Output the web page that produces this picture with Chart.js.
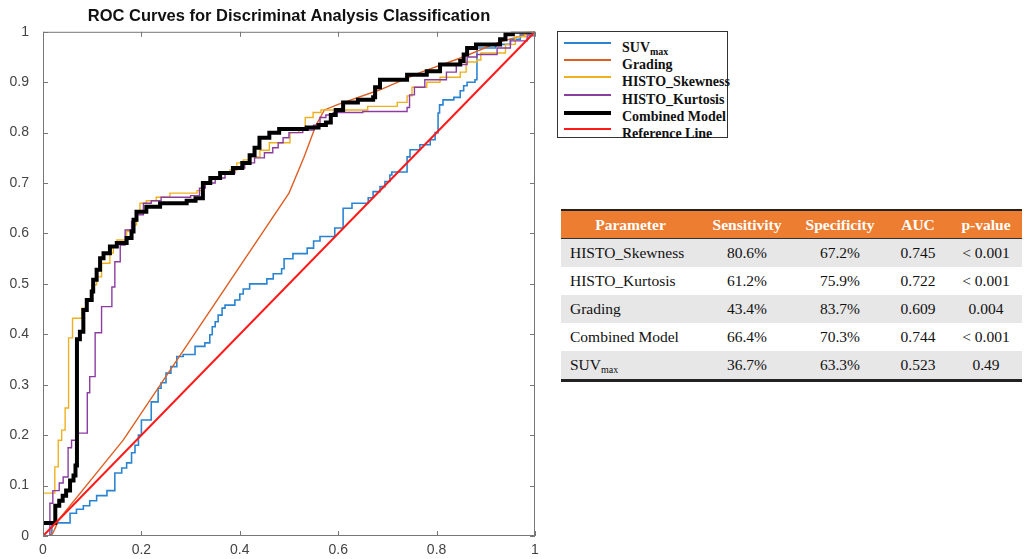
<!DOCTYPE html>
<html>
<head>
<meta charset="utf-8">
<script src="https://cdn.jsdelivr.net/npm/chart.js@4.4.1/dist/chart.umd.min.js"></script>
<style>
  html, body { margin: 0; padding: 0; background: #fff; }
  body { width: 1027px; height: 559px; position: relative; overflow: hidden; }
  #wrap { position: absolute; left: 0; top: 0; width: 550px; height: 559px; }
  #legend {
    position: absolute; left: 557px; top: 31px; width: 169px; height: 105px;
    border: 1px solid #333; background: #fff;
    font-family: "Liberation Serif", "Times New Roman", serif; font-weight: bold; font-size: 14px; color: #111;
  }
  .row { position: absolute; left: 0; height: 17px; width: 100%; }
  .row .smp { position: absolute; left: 6px; width: 47px; top: 3px; }
  .row .lab { position: absolute; left: 64px; top: 0; line-height: 17px; white-space: nowrap; }
  sub { font-size: 10px; vertical-align: -3px; line-height: 0; }
  #tbl {
    position: absolute; left: 561px; top: 209px; width: 461px;
    border-collapse: collapse; table-layout: fixed;
    font-family: "Liberation Serif", "Times New Roman", serif; font-size: 15.5px; color: #111;
    border-top: 2px solid #222; border-bottom: 3px solid #222;
  }
  #tbl th { background: #ED7D31; color: #fff; font-weight: bold; height: 27px; padding: 0; text-align: center; border-bottom: 1px solid #333; }
  #tbl td { height: 28px; padding: 0; text-align: center; }
  #tbl td.p { text-align: left; padding-left: 9px; }
  #tbl tr.g td { background: #E7E7E7; }
</style>
</head>
<body>
<div id="wrap"><canvas id="roc" width="550" height="559"></canvas></div>
<div id="legend"></div>
<table id="tbl"></table>
<script>
// ROC-Kurven (FPR = 1 - Spezifität, TPR = Sensitivität)
const suvFpr = [0, 0.018, 0.055, 0.068, 0.082, 0.095, 0.109, 0.13, 0.146, 0.16, 0.17, 0.18, 0.187, 0.194, 0.2, 0.22, 0.234, 0.24, 0.25, 0.26, 0.272, 0.285, 0.309, 0.329, 0.339, 0.344, 0.35, 0.356, 0.364, 0.37, 0.39, 0.4, 0.407, 0.42, 0.455, 0.468, 0.485, 0.49, 0.508, 0.537, 0.55, 0.563, 0.593, 0.61, 0.628, 0.661, 0.671, 0.685, 0.695, 0.705, 0.709, 0.74, 0.746, 0.766, 0.787, 0.797, 0.803, 0.806, 0.813, 0.835, 0.848, 0.855, 0.862, 0.878, 0.882, 0.92, 0.95, 0.97, 0.99, 1];
const suvTpr = [0, 0.026, 0.045, 0.053, 0.06, 0.07, 0.08, 0.09, 0.125, 0.135, 0.145, 0.165, 0.18, 0.2, 0.23, 0.266, 0.293, 0.304, 0.323, 0.336, 0.356, 0.36, 0.376, 0.383, 0.399, 0.415, 0.425, 0.438, 0.452, 0.458, 0.468, 0.48, 0.49, 0.5, 0.51, 0.52, 0.53, 0.55, 0.56, 0.571, 0.585, 0.594, 0.611, 0.65, 0.66, 0.671, 0.683, 0.693, 0.703, 0.716, 0.722, 0.752, 0.766, 0.776, 0.786, 0.8, 0.839, 0.855, 0.865, 0.87, 0.883, 0.893, 0.9, 0.905, 0.968, 0.975, 0.985, 0.995, 1, 1];

const gradFpr = [0, 0.012, 0.02, 0.026, 0.03, 0.163, 0.5, 0.53, 0.555, 0.572, 0.6, 0.685, 0.766, 0.854, 0.923, 1];
const gradTpr = [0, 0, 0.006, 0.018, 0.03, 0.19, 0.68, 0.75, 0.815, 0.845, 0.856, 0.885, 0.919, 0.95, 0.978, 1];

const skewFpr = [0, 0.024, 0.031, 0.038, 0.045, 0.052, 0.06, 0.079, 0.089, 0.099, 0.109, 0.119, 0.136, 0.143, 0.15, 0.17, 0.183, 0.19, 0.197, 0.21, 0.23, 0.258, 0.313, 0.323, 0.34, 0.36, 0.38, 0.394, 0.407, 0.42, 0.441, 0.46, 0.502, 0.52, 0.533, 0.549, 0.565, 0.66, 0.72, 0.74, 0.75, 0.78, 0.807, 0.848, 0.86, 0.882, 0.89, 0.94, 0.96, 0.98, 1];
const skewTpr = [0.085, 0.137, 0.19, 0.21, 0.254, 0.393, 0.432, 0.452, 0.468, 0.498, 0.514, 0.541, 0.561, 0.574, 0.587, 0.604, 0.617, 0.64, 0.66, 0.665, 0.672, 0.68, 0.685, 0.7, 0.71, 0.72, 0.726, 0.74, 0.746, 0.752, 0.765, 0.78, 0.8, 0.81, 0.83, 0.84, 0.845, 0.852, 0.86, 0.873, 0.89, 0.9, 0.91, 0.92, 0.94, 0.944, 0.958, 0.975, 0.99, 1, 1];

const kurtFpr = [0, 0.014, 0.02, 0.033, 0.041, 0.051, 0.058, 0.068, 0.09, 0.095, 0.106, 0.119, 0.14, 0.146, 0.157, 0.167, 0.18, 0.19, 0.204, 0.22, 0.24, 0.3, 0.318, 0.33, 0.35, 0.37, 0.39, 0.41, 0.43, 0.45, 0.467, 0.478, 0.488, 0.5, 0.528, 0.55, 0.563, 0.575, 0.59, 0.65, 0.74, 0.745, 0.755, 0.776, 0.82, 0.84, 0.862, 0.882, 0.923, 0.95, 0.984, 1];
const kurtTpr = [0, 0.065, 0.09, 0.105, 0.117, 0.175, 0.19, 0.204, 0.284, 0.316, 0.403, 0.455, 0.494, 0.544, 0.577, 0.607, 0.624, 0.637, 0.66, 0.665, 0.672, 0.675, 0.69, 0.7, 0.71, 0.72, 0.73, 0.74, 0.75, 0.76, 0.77, 0.78, 0.79, 0.8, 0.805, 0.815, 0.83, 0.835, 0.84, 0.842, 0.85, 0.875, 0.89, 0.905, 0.92, 0.935, 0.95, 0.955, 0.968, 0.982, 0.992, 1];

const combFpr = [0, 0.025, 0.033, 0.04, 0.047, 0.055, 0.062, 0.066, 0.069, 0.075, 0.082, 0.089, 0.099, 0.102, 0.109, 0.116, 0.123, 0.136, 0.15, 0.17, 0.18, 0.184, 0.19, 0.21, 0.238, 0.292, 0.31, 0.325, 0.34, 0.36, 0.386, 0.405, 0.42, 0.43, 0.44, 0.46, 0.48, 0.536, 0.56, 0.575, 0.585, 0.595, 0.61, 0.64, 0.671, 0.675, 0.685, 0.74, 0.78, 0.807, 0.848, 0.855, 0.862, 0.88, 0.929, 0.94, 0.955, 1];
const combTpr = [0.026, 0.06, 0.07, 0.08, 0.09, 0.11, 0.12, 0.14, 0.39, 0.405, 0.448, 0.468, 0.485, 0.508, 0.528, 0.551, 0.561, 0.574, 0.581, 0.591, 0.604, 0.627, 0.643, 0.653, 0.66, 0.665, 0.67, 0.7, 0.71, 0.72, 0.73, 0.74, 0.755, 0.77, 0.79, 0.8, 0.807, 0.81, 0.815, 0.82, 0.835, 0.845, 0.86, 0.865, 0.87, 0.89, 0.905, 0.915, 0.922, 0.935, 0.942, 0.955, 0.968, 0.975, 0.985, 0.995, 1, 1];

const refFpr = [0, 1];
const refTpr = [0, 1];

const seriesNames = ['SUVmax', 'Grading', 'HISTO_Skewness', 'HISTO_Kurtosis', 'Combined Model', 'Reference Line'];
const seriesColors = ['#2a84d2', '#DE5F23', '#EDB120', '#8b3d9f', '#000000', '#FF1A1A'];
const seriesWidths = [1.6, 1.4, 1.4, 1.4, 4, 2];

const xTicks = [0, 0.2, 0.4, 0.6, 0.8, 1];
const yTicks = [0, 0.1, 0.2, 0.3, 0.4, 0.5, 0.6, 0.7, 0.8, 0.9, 1];

// Tabelle
const tableHeaders = ['Parameter', 'Sensitivity', 'Specificity', 'AUC', 'p-value'];
const tableParams = ['HISTO_Skewness', 'HISTO_Kurtosis', 'Grading', 'Combined Model', 'SUVmax'];
const tableSens = ['80.6%', '61.2%', '43.4%', '66.4%', '36.7%'];
const tableSpec = ['67.2%', '75.9%', '83.7%', '70.3%', '63.3%'];
const tableAuc = ['0.745', '0.722', '0.609', '0.744', '0.523'];
const tablePval = ['< 0.001', '< 0.001', '0.004', '< 0.001', '0.49'];
const colWidths = [139, 94, 92, 64, 72];

function fmtName(n) {
    return n === 'SUVmax' ? 'SUV<sub>max</sub>' : n;
}
function toPoints(xs, ys) {
    return xs.map((x, i) => ({ x: x, y: ys[i] }));
}
// MATLAB-Stil: 1 statt 1.0, 0 statt 0.0
function fmtTick(v) {
    return String(Math.round(v * 10) / 10);
}

const curves = [
    [suvFpr, suvTpr, true],
    [gradFpr, gradTpr, false],
    [skewFpr, skewTpr, true],
    [kurtFpr, kurtTpr, true],
    [combFpr, combTpr, true],
    [refFpr, refTpr, false]
];
// Zeichenreihenfolge: Referenzlinie oben, dann Combined Model
const drawOrder = [5, 4, 3, 2, 1, 0];

const datasets = curves.map((c, i) => ({
    label: seriesNames[i],
    data: toPoints(c[0], c[1]),
    borderColor: seriesColors[i],
    backgroundColor: seriesColors[i],
    borderWidth: seriesWidths[i],
    pointRadius: 0,
    fill: false,
    tension: 0,
    stepped: c[2] ? 'before' : false,
    order: drawOrder[i]
}));

// Achsenrahmen mit Ticks nach innen (wie MATLAB "box on")
const boxPlugin = {
    id: 'boxPlugin',
    afterDraw(chart) {
        const ctx = chart.ctx;
        const a = chart.chartArea;
        const sx = chart.scales.x, sy = chart.scales.y;
        ctx.save();
        ctx.strokeStyle = '#777';
        ctx.lineWidth = 1;
        ctx.strokeRect(a.left + 0.5, a.top + 0.5, a.right - a.left - 1, a.bottom - a.top - 1);
        ctx.beginPath();
        xTicks.forEach(v => {
            const px = Math.round(sx.getPixelForValue(v)) + 0.5;
            ctx.moveTo(px, a.bottom); ctx.lineTo(px, a.bottom - 5);
            ctx.moveTo(px, a.top); ctx.lineTo(px, a.top + 5);
        });
        yTicks.forEach(v => {
            const py = Math.round(sy.getPixelForValue(v)) + 0.5;
            ctx.moveTo(a.left, py); ctx.lineTo(a.left + 5, py);
            ctx.moveTo(a.right, py); ctx.lineTo(a.right - 5, py);
        });
        ctx.stroke();
        ctx.restore();
    }
};

const tickFont = { family: '"Liberation Sans", Arial, sans-serif', size: 14 };

new Chart(document.getElementById('roc').getContext('2d'), {
    type: 'line',
    data: { datasets: datasets },
    options: {
        responsive: false,
        animation: false,
        layout: { padding: { left: 0, right: 15, top: 0, bottom: 0 } },
        plugins: {
            legend: { display: false },
            tooltip: { enabled: false },
            title: {
                display: true,
                fullSize: false,
                text: 'ROC Curves for Discriminat Analysis Classification',
                color: '#111',
                font: { family: '"Liberation Sans", Arial, sans-serif', size: 16.5, weight: 'bold' },
                padding: { top: 7, bottom: 5 }
            }
        },
        scales: {
            x: {
                type: 'linear', min: 0, max: 1,
                afterBuildTicks: s => { s.ticks = xTicks.map(v => ({ value: v })); },
                ticks: { color: '#444', font: tickFont, padding: -2, maxRotation: 0, autoSkip: false, callback: fmtTick },
                grid: { display: false },
                border: { display: false },
                afterFit: s => { s.height = 23; }
            },
            y: {
                type: 'linear', min: 0, max: 1,
                afterBuildTicks: s => { s.ticks = yTicks.map(v => ({ value: v })); },
                ticks: { color: '#444', font: tickFont, padding: 6, autoSkip: false, callback: fmtTick },
                grid: { display: false },
                border: { display: false },
                afterFit: s => { s.width = 43; }
            }
        }
    },
    plugins: [boxPlugin]
});

// Legende
const leg = document.getElementById('legend');
seriesNames.forEach((n, i) => {
    const row = document.createElement('div');
    row.className = 'row';
    row.style.top = (7 + 17.2 * i) + 'px';
    const smp = document.createElement('div');
    smp.className = 'smp';
    smp.style.borderTop = Math.max(2, seriesWidths[i]) + 'px solid ' + seriesColors[i];
    const lab = document.createElement('div');
    lab.className = 'lab';
    lab.innerHTML = fmtName(n);
    row.appendChild(smp);
    row.appendChild(lab);
    leg.appendChild(row);
});

// Tabelle aufbauen
const tbl = document.getElementById('tbl');
let html = '<colgroup>' + colWidths.map(w => '<col style="width:' + w + 'px">').join('') + '</colgroup>';
html += '<tr>' + tableHeaders.map(h => '<th>' + h + '</th>').join('') + '</tr>';
tableParams.forEach((p, i) => {
    html += '<tr class="' + (i % 2 === 0 ? 'g' : '') + '">' +
        '<td class="p">' + fmtName(p) + '</td>' +
        '<td>' + tableSens[i] + '</td>' +
        '<td>' + tableSpec[i] + '</td>' +
        '<td>' + tableAuc[i] + '</td>' +
        '<td>' + tablePval[i] + '</td></tr>';
});
tbl.innerHTML = html;
</script>
</body>
</html>
